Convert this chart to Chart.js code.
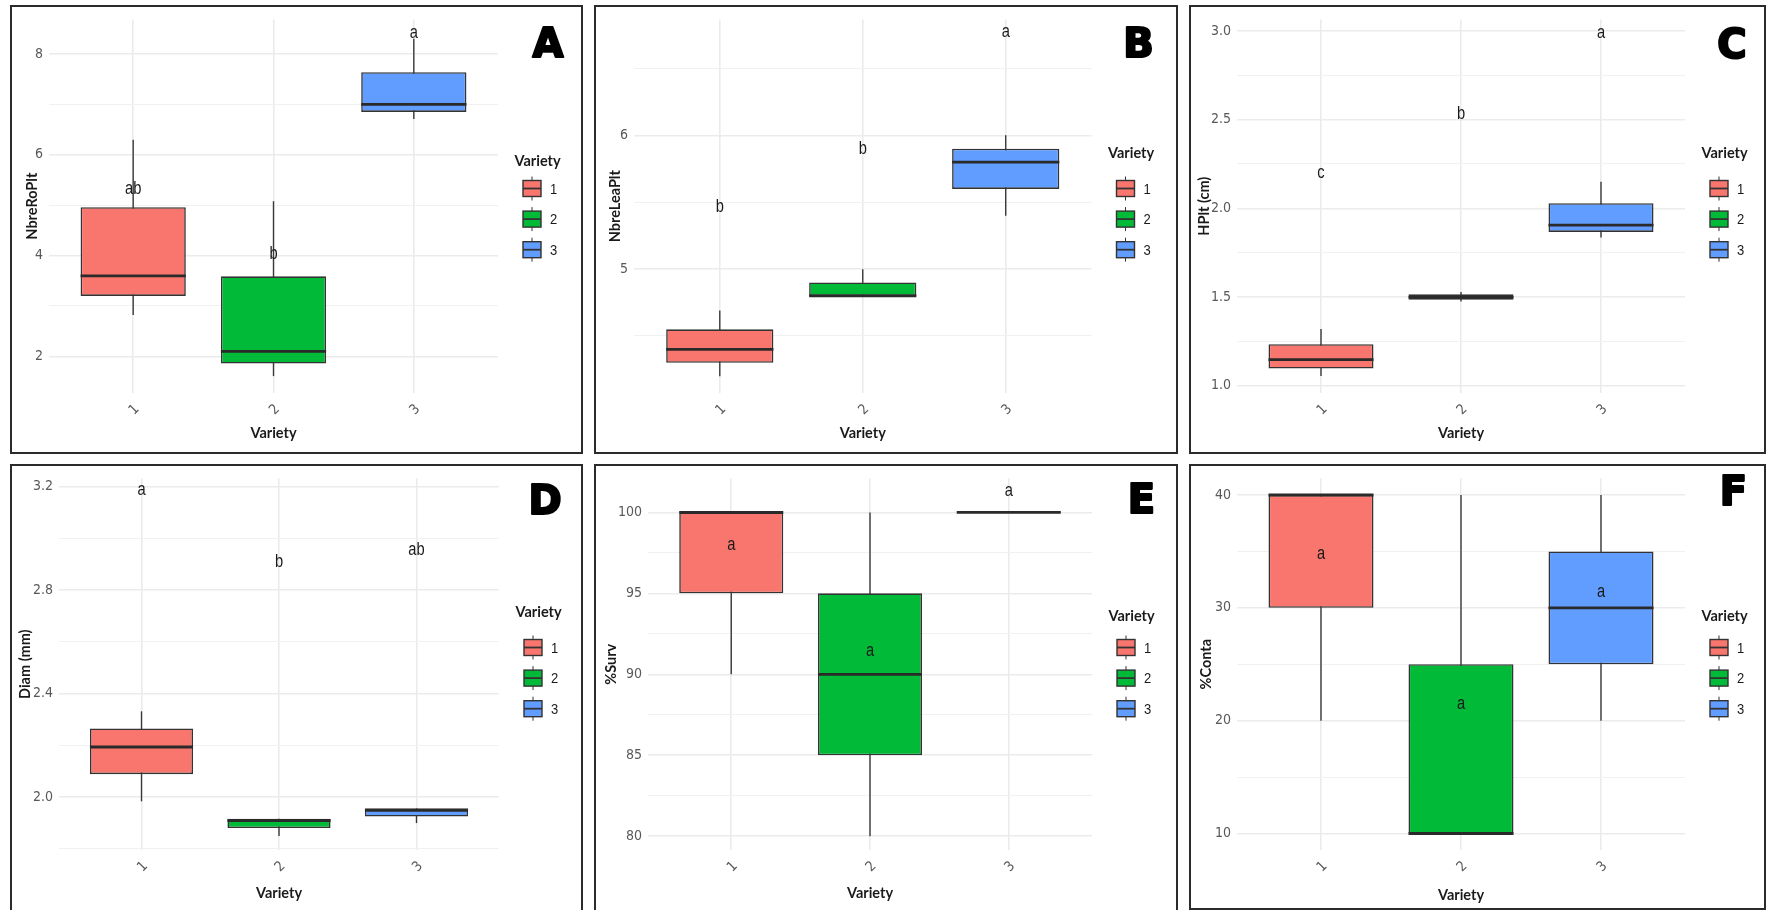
<!DOCTYPE html>
<html>
<head>
<meta charset="utf-8">
<title>Variety boxplots</title>
<script src="https://cdn.jsdelivr.net/npm/chart.js@4.4.1/dist/chart.umd.min.js"></script>
<style>
    html, body { margin: 0; padding: 0; background: #fff; }
    body { width: 1766px; height: 910px; position: relative; overflow: hidden; }
    .panel { position: absolute; }
    .panel canvas { position: absolute; left: 0; top: 0; }
    .frame { position: absolute; left: 0; top: 0; right: 0; bottom: 0; border: 2px solid #2b2b2b; pointer-events: none; }
</style>
</head>
<body>
<div class="panel" style="left:10px;top:5px;width:573px;height:449px"><canvas id="chart-a" width="573" height="449"></canvas><div class="frame"></div></div>
<div class="panel" style="left:594px;top:5px;width:584px;height:449px"><canvas id="chart-b" width="584" height="449"></canvas><div class="frame"></div></div>
<div class="panel" style="left:1189px;top:5px;width:577px;height:449px"><canvas id="chart-c" width="577" height="449"></canvas><div class="frame"></div></div>
<div class="panel" style="left:10px;top:464px;width:573px;height:450px"><canvas id="chart-d" width="573" height="450"></canvas><div class="frame"></div></div>
<div class="panel" style="left:594px;top:464px;width:584px;height:450px"><canvas id="chart-e" width="584" height="450"></canvas><div class="frame"></div></div>
<div class="panel" style="left:1189px;top:464px;width:577px;height:446px"><canvas id="chart-f" width="577" height="446"></canvas><div class="frame"></div></div>

<script>
const varieties = ['1', '2', '3'];
const fills = ['#F8766D', '#00BA38', '#619CFF'];
const xTitle = 'Variety';
const legendTitle = 'Variety';

// A - NbreRoPlt
const roLow = [2.82, 1.61, 6.71];
const roQ1 = [3.2, 1.86, 6.85];
const roMed = [3.6, 2.1, 7.0];
const roQ3 = [4.96, 3.59, 7.64];
const roHigh = [6.3, 5.08, 8.3];
const roLetters = ['ab', 'b', 'a'];
const roLetterY = [5.32, 4.03, 8.42];
const roTicks = [2, 3, 4, 5, 6, 7, 8];
const roTickLabels = ['2', '', '4', '', '6', '', '8'];

// B - NbreLeaPlt
const leaLow = [4.2, 4.8, 5.4];
const leaQ1 = [4.3, 4.8, 5.6];
const leaMed = [4.4, 4.8, 5.8];
const leaQ3 = [4.55, 4.9, 5.9];
const leaHigh = [4.69, 5.0, 6.0];
const leaLetters = ['b', 'b', 'a'];
const leaLetterY = [5.46, 5.9, 6.77];
const leaTicks = [4.5, 5, 5.5, 6, 6.5];
const leaTickLabels = ['', '5', '', '6', ''];

// C - HPlt (cm)
const hLow = [1.055, 1.475, 1.836];
const hQ1 = [1.097, 1.485, 1.867];
const hMed = [1.147, 1.5, 1.905];
const hQ3 = [1.234, 1.515, 2.029];
const hHigh = [1.32, 1.528, 2.15];
const hLetters = ['c', 'b', 'a'];
const hLetterY = [2.196, 2.53, 2.99];
const hTicks = [1, 1.25, 1.5, 1.75, 2, 2.25, 2.5, 2.75, 3];
const hTickLabels = ['1.0', '', '1.5', '', '2.0', '', '2.5', '', '3.0'];

// D - Diam (mm)
const dLow = [1.984, 1.85, 1.9];
const dQ1 = [2.089, 1.881, 1.925];
const dMed = [2.194, 1.91, 1.949];
const dQ3 = [2.266, 1.917, 1.957];
const dHigh = [2.332, 1.917, 1.957];
const dLetters = ['a', 'b', 'ab'];
const dLetterY = [3.185, 2.91, 2.955];
const dTicks = [1.8, 2.0, 2.2, 2.4, 2.6, 2.8, 3.0, 3.2];
const dTickLabels = ['', '2.0', '', '2.4', '', '2.8', '', '3.2'];

// E - %Surv
const survLow = [90, 80, 100];
const survQ1 = [95, 85, 100];
const survMed = [100, 90, 100];
const survQ3 = [100, 95, 100];
const survHigh = [100, 100, 100];
const survLetters = ['a', 'a', 'a'];
const survLetterY = [98.0, 91.4, 101.34];
const survTicks = [80, 82.5, 85, 87.5, 90, 92.5, 95, 97.5, 100];
const survTickLabels = ['80', '', '85', '', '90', '', '95', '', '100'];

// F - %Conta
const contaLow = [20, 10, 20];
const contaQ1 = [30, 10, 25];
const contaMed = [40, 10, 30];
const contaQ3 = [40, 25, 35];
const contaHigh = [40, 40, 40];
const contaLetters = ['a', 'a', 'a'];
const contaLetterY = [34.73, 21.42, 31.43];
const contaTicks = [10, 15, 20, 25, 30, 35, 40];
const contaTickLabels = ['10', '', '20', '', '30', '', '40'];

const narrow = '"Liberation Sans Narrow", "DejaVu Sans Condensed", sans-serif';
const tickFont = { family: narrow, size: 14 };
const titleFont = { family: 'Lato, "Open Sans", sans-serif', size: 14.5, weight: 'bold' };
const halfLine = 14.5 * 1.2 / 2;

// squeezed text, close to the narrow face used in the original
function narrowText(ctx, text, x, y, size) {
    ctx.save();
    ctx.translate(x, y);
    ctx.scale(0.84, 1);
    ctx.font = size + 'px "Liberation Sans", Arial, sans-serif';
    ctx.fillText(text, 0, 0);
    ctx.restore();
}

// whiskers, medians, group letters, legend and panel tag
const ggBox = {
    id: 'ggBox',
    beforeDatasetsDraw(chart) {
        const ctx = chart.ctx;
        const y = chart.scales.y;
        ctx.save();
        ctx.strokeStyle = '#3a3a3a';
        ctx.lineWidth = 1.4;
        chart.data.datasets.forEach((ds, i) => {
            const bar = chart.getDatasetMeta(i).data[0];
            ctx.beginPath();
            ctx.moveTo(bar.x, y.getPixelForValue(ds.high));
            ctx.lineTo(bar.x, y.getPixelForValue(ds.low));
            ctx.stroke();
        });
        ctx.restore();
    },
    afterDatasetsDraw(chart) {
        const ctx = chart.ctx;
        const x = chart.scales.x;
        const y = chart.scales.y;
        ctx.save();
        ctx.strokeStyle = '#2a2a2a';
        ctx.lineWidth = 2.8;
        chart.data.datasets.forEach((ds, i) => {
            const bar = chart.getDatasetMeta(i).data[0];
            const my = y.getPixelForValue(ds.med);
            ctx.beginPath();
            ctx.moveTo(bar.x - bar.width / 2, my);
            ctx.lineTo(bar.x + bar.width / 2, my);
            ctx.stroke();
        });
        ctx.fillStyle = '#1a1a1a';
        ctx.textAlign = 'center';
        ctx.textBaseline = 'middle';
        chart.data.datasets.forEach((ds, i) => {
            narrowText(ctx, ds.letter, x.getPixelForValue(i + 1), y.getPixelForValue(ds.letterY), 17.5);
        });
        ctx.restore();
    },
    afterDraw(chart, args, opts) {
        const ctx = chart.ctx;
        const left = chart.chartArea.right;
        ctx.save();
        ctx.fillStyle = '#1a1a1a';
        ctx.font = 'bold 14.5px Lato, "Open Sans", sans-serif';
        ctx.textAlign = 'left';
        ctx.textBaseline = 'middle';
        ctx.fillText(legendTitle, left + 16.5, opts.legendTitleY);

        chart.data.datasets.forEach((ds, i) => {
            const cy = 183.5 + i * 30.6;
            const kx = left + 25;
            ctx.strokeStyle = '#333';
            ctx.lineWidth = 1;
            ctx.beginPath();
            ctx.moveTo(kx + 9, cy - 12);
            ctx.lineTo(kx + 9, cy + 12);
            ctx.stroke();
            ctx.fillStyle = ds.backgroundColor;
            ctx.fillRect(kx, cy - 8, 18, 16);
            ctx.lineWidth = 1.4;
            ctx.strokeRect(kx, cy - 8, 18, 16);
            ctx.lineWidth = 1.8;
            ctx.beginPath();
            ctx.moveTo(kx, cy);
            ctx.lineTo(kx + 18, cy);
            ctx.stroke();
            ctx.fillStyle = '#1a1a1a';
            narrowText(ctx, ds.label, left + 52, cy + 1, 15.5);
        });

        ctx.fillStyle = '#000';
        ctx.strokeStyle = '#000';
        ctx.lineWidth = 2.2;
        ctx.lineJoin = 'round';
        ctx.font = 'bold 40px "DejaVu Sans", sans-serif';
        ctx.textAlign = 'center';
        ctx.textBaseline = 'alphabetic';
        ctx.fillText(opts.tag, opts.tagX, opts.tagY);
        ctx.strokeText(opts.tag, opts.tagX, opts.tagY);
        ctx.restore();
    }
};

function boxChart(p) {
    const canvas = document.getElementById(p.id);
    const datasets = varieties.map((v, i) => ({
        label: v,
        data: [{ x: i + 1, y: [p.q1[i], p.q3[i]] }],
        low: p.low[i],
        med: p.med[i],
        high: p.high[i],
        letter: p.letters[i],
        letterY: p.letterY[i],
        backgroundColor: fills[i],
        borderColor: '#333333',
        borderWidth: 1.6,
        borderSkipped: false,
        grouped: false,
        barPercentage: 0.75,
        categoryPercentage: 1
    }));

    return new Chart(canvas, {
        type: 'bar',
        data: { datasets: datasets },
        options: {
            responsive: false,
            animation: false,
            events: [],
            layout: {
                padding: { left: 0, top: p.plotTop, right: canvas.width - p.plotRight, bottom: 0 }
            },
            scales: {
                x: {
                    type: 'linear',
                    min: 0.4,
                    max: 3.6,
                    bounds: 'data',
                    offset: false,
                    afterBuildTicks: axis => { axis.ticks = varieties.map((v, i) => ({ value: i + 1 })); },
                    afterFit: axis => { axis.height = canvas.height - p.plotBottom; },
                    grid: { color: '#ebebeb', lineWidth: 1.6, drawTicks: false, offset: false },
                    border: { display: false },
                    ticks: {
                        callback: (v, i) => varieties[i],
                        autoSkip: false,
                        minRotation: 45,
                        maxRotation: 45,
                        padding: 8,
                        labelOffset: 4,
                        color: '#595959',
                        font: tickFont
                    },
                    title: {
                        display: true,
                        text: xTitle,
                        color: '#1a1a1a',
                        font: titleFont,
                        padding: { top: 0, bottom: canvas.height - p.xTitleY - halfLine }
                    }
                },
                y: {
                    min: p.yMin,
                    max: p.yMax,
                    bounds: 'data',
                    afterBuildTicks: axis => { axis.ticks = p.ticks.map(v => ({ value: v })); },
                    afterFit: axis => { axis.width = p.plotLeft; },
                    grid: {
                        color: c => p.tickLabels[c.index] ? '#ebebeb' : '#f1f1f1',
                        lineWidth: c => p.tickLabels[c.index] ? 1.6 : 1.1,
                        drawTicks: false
                    },
                    border: { display: false },
                    ticks: {
                        callback: (v, i) => p.tickLabels[i],
                        autoSkip: false,
                        padding: 6,
                        color: '#595959',
                        font: tickFont
                    },
                    title: {
                        display: true,
                        text: p.yTitle,
                        color: '#1a1a1a',
                        font: titleFont,
                        padding: { top: p.yTitleX - halfLine, bottom: 0 }
                    }
                }
            },
            plugins: {
                legend: { display: false },
                tooltip: { enabled: false },
                ggBox: { tag: p.tag, tagX: p.tagX, tagY: p.tagY, legendTitleY: p.legendTitleY }
            }
        },
        plugins: [ggBox]
    });
}

const chartA = boxChart({
    id: 'chart-a', tag: 'A', yTitle: 'NbreRoPlt',
    low: roLow, q1: roQ1, med: roMed, q3: roQ3, high: roHigh,
    letters: roLetters, letterY: roLetterY, ticks: roTicks, tickLabels: roTickLabels,
    yMin: 1.275, yMax: 8.686,
    plotLeft: 39, plotRight: 488, plotTop: 10, plotBottom: 388,
    yTitleX: 22, xTitleY: 428, tagX: 538, tagY: 52, legendTitleY: 156
});

const chartB = boxChart({
    id: 'chart-b', tag: 'B', yTitle: 'NbreLeaPlt',
    low: leaLow, q1: leaQ1, med: leaMed, q3: leaQ3, high: leaHigh,
    letters: leaLetters, letterY: leaLetterY, ticks: leaTicks, tickLabels: leaTickLabels,
    yMin: 4.074, yMax: 6.867,
    plotLeft: 40, plotRight: 497.5, plotTop: 10, plotBottom: 388,
    yTitleX: 21, xTitleY: 428, tagX: 544.6, tagY: 52, legendTitleY: 148
});

const chartC = boxChart({
    id: 'chart-c', tag: 'C', yTitle: 'HPlt (cm)',
    low: hLow, q1: hQ1, med: hMed, q3: hQ3, high: hHigh,
    letters: hLetters, letterY: hLetterY, ticks: hTicks, tickLabels: hTickLabels,
    yMin: 0.959, yMax: 3.065,
    plotLeft: 48, plotRight: 496, plotTop: 10, plotBottom: 388,
    yTitleX: 15.5, xTitleY: 428, tagX: 543, tagY: 53, legendTitleY: 148
});

const chartD = boxChart({
    id: 'chart-d', tag: 'D', yTitle: 'Diam (mm)',
    low: dLow, q1: dQ1, med: dMed, q3: dQ3, high: dHigh,
    letters: dLetters, letterY: dLetterY, ticks: dTicks, tickLabels: dTickLabels,
    yMin: 1.796, yMax: 3.232,
    plotLeft: 49, plotRight: 489, plotTop: 11, plotBottom: 386,
    yTitleX: 15, xTitleY: 429, tagX: 535, tagY: 50, legendTitleY: 148
});

const chartE = boxChart({
    id: 'chart-e', tag: 'E', yTitle: '%Surv',
    low: survLow, q1: survQ1, med: survMed, q3: survQ3, high: survHigh,
    letters: survLetters, letterY: survLetterY, ticks: survTicks, tickLabels: survTickLabels,
    yMin: 79.15, yMax: 102.1,
    plotLeft: 54, plotRight: 498, plotTop: 11, plotBottom: 386,
    yTitleX: 17, xTitleY: 429, tagX: 547.5, tagY: 49, legendTitleY: 152
});

const chartF = boxChart({
    id: 'chart-f', tag: 'F', yTitle: '%Conta',
    low: contaLow, q1: contaQ1, med: contaMed, q3: contaQ3, high: contaHigh,
    letters: contaLetters, letterY: contaLetterY, ticks: contaTicks, tickLabels: contaTickLabels,
    yMin: 8.54, yMax: 41.47,
    plotLeft: 48, plotRight: 496, plotTop: 11, plotBottom: 386,
    yTitleX: 17, xTitleY: 431, tagX: 544.5, tagY: 41, legendTitleY: 152
});
</script>
</body>
</html>
